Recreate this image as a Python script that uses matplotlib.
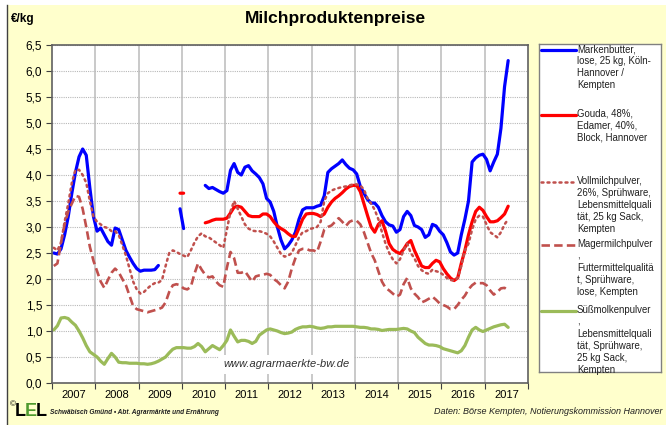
import numpy as np
import matplotlib
matplotlib.use("Agg")
import matplotlib.pyplot as plt
from matplotlib.patches import Rectangle
from matplotlib.lines import Line2D

plt.rcParams['font.family'] = ['Liberation Sans', 'DejaVu Sans']

nan = np.nan

# ==================================================
# DATA: monthly prices in EUR/kg, Jan 2007 - Jul 2017
# ==================================================

years = [2007, 2008, 2009, 2010, 2011, 2012, 2013, 2014, 2015, 2016, 2017]

markenbutter = [
    2.5, 2.48, 2.58, 2.85, 3.2, 3.65, 4.05, 4.35, 4.5, 4.38, 3.75, 3.2,
    2.92, 2.98, 2.85, 2.72, 2.65, 2.98, 2.95, 2.75, 2.55, 2.42, 2.3, 2.2,
    2.15, 2.17, 2.17, 2.17, 2.18, 2.26, nan, nan, nan, nan, nan, 3.35,
    2.97, nan, nan, nan, nan, nan, 3.8, 3.74, 3.76, 3.72, 3.68, 3.65,
    3.7, 4.09, 4.22, 4.05, 4.0, 4.15, 4.18, 4.08, 4.02, 3.95, 3.83, 3.55,
    3.48, 3.3, 3.0, 2.75, 2.58, 2.65, 2.75, 2.9, 3.15, 3.33, 3.37, 3.37,
    3.37, 3.4, 3.42, 3.6, 4.05, 4.12, 4.17, 4.22, 4.29, 4.2, 4.13, 4.1,
    4.02, 3.78, 3.65, 3.53, 3.46, 3.46, 3.38, 3.22, 3.1, 3.04, 3.02, 2.9,
    2.95, 3.2, 3.3, 3.22, 3.03, 3.0, 2.95, 2.8, 2.85, 3.05, 3.02, 2.92,
    2.85, 2.7, 2.52, 2.46, 2.5, 2.85, 3.15, 3.5, 4.25, 4.33, 4.38, 4.4,
    4.3, 4.08, 4.25, 4.4, 4.9, 5.7, 6.2,
]

gouda = [
    nan, nan, nan, nan, nan, nan, nan, nan, nan, nan, nan, nan,
    nan, nan, nan, nan, nan, nan, nan, nan, nan, nan, nan, nan,
    nan, nan, nan, nan, nan, nan, nan, nan, nan, nan, nan, 3.65,
    3.65, nan, nan, nan, nan, nan, 3.08, 3.1, 3.13, 3.15, 3.15, 3.15,
    3.17, 3.27, 3.38, 3.4, 3.38, 3.3, 3.22, 3.2, 3.2, 3.2, 3.25, 3.25,
    3.2, 3.1, 3.02, 2.97, 2.93, 2.87, 2.82, 2.82, 2.98, 3.15, 3.25, 3.26,
    3.26, 3.24, 3.2, 3.25, 3.38, 3.48, 3.55, 3.6, 3.66, 3.73, 3.78, 3.8,
    3.8, 3.68, 3.45, 3.22, 3.0, 2.9, 3.05, 3.12, 2.92, 2.68, 2.57, 2.52,
    2.49, 2.57, 2.68, 2.74, 2.55, 2.4, 2.25, 2.22, 2.22, 2.3, 2.36, 2.33,
    2.2, 2.1, 2.02, 1.97, 2.02, 2.3, 2.55, 2.85, 3.1, 3.3, 3.38, 3.32,
    3.2, 3.1, 3.1, 3.12, 3.18, 3.25, 3.4,
]

vollmilchpulver = [
    2.6, 2.55, 2.7, 3.1, 3.45, 3.85, 4.1, 4.1, 4.0, 3.85, 3.5, 3.2,
    3.1, 3.05, 3.0, 2.98, 2.92, 2.92, 2.85, 2.65, 2.45, 2.2, 1.95, 1.8,
    1.72, 1.75, 1.82, 1.88, 1.92, 1.93, 1.98, 2.25, 2.5, 2.55, 2.52, 2.48,
    2.45, 2.42, 2.55, 2.7, 2.82, 2.88, 2.82, 2.8, 2.75, 2.7, 2.65, 2.6,
    2.95, 3.3, 3.5, 3.35, 3.2, 3.05, 2.97, 2.93, 2.92, 2.92, 2.9, 2.87,
    2.82, 2.72, 2.6, 2.48, 2.43, 2.45, 2.5, 2.65, 2.8, 2.9, 2.92, 2.96,
    2.98, 3.0, 3.1, 3.5, 3.65, 3.7, 3.73, 3.75, 3.77, 3.78, 3.8, 3.82,
    3.82, 3.8, 3.72, 3.55, 3.45, 3.33, 3.15, 2.9, 2.68, 2.5, 2.38, 2.3,
    2.38, 2.55, 2.68, 2.5, 2.4, 2.25, 2.17, 2.12, 2.1, 2.18, 2.15, 2.13,
    2.08, 2.02, 1.98, 1.97, 2.02, 2.25, 2.55, 2.68, 2.95, 3.15, 3.22, 3.2,
    3.05, 2.9, 2.85, 2.8, 2.9, 3.05, 3.15,
]

magermilchpulver = [
    2.25, 2.3, 2.7, 3.05, 3.3, 3.45, 3.6, 3.58, 3.35, 3.0, 2.62, 2.35,
    2.15, 1.95, 1.83, 1.98, 2.12, 2.2, 2.13, 2.0, 1.88, 1.68, 1.48, 1.42,
    1.4, 1.38, 1.36, 1.38, 1.4, 1.42, 1.45, 1.55, 1.75, 1.88, 1.9, 1.88,
    1.82, 1.8, 1.85, 2.1, 2.3, 2.18, 2.08, 2.03, 2.05, 1.95, 1.88, 1.85,
    2.22, 2.52, 2.4, 2.12, 2.12, 2.15, 2.05, 1.95, 2.05, 2.07, 2.08, 2.1,
    2.08, 2.0, 1.95, 1.88, 1.82, 1.95, 2.2, 2.4, 2.55, 2.58, 2.58, 2.55,
    2.55, 2.52, 2.72, 2.95, 3.0, 3.03, 3.1, 3.17, 3.1, 3.02, 3.1, 3.13,
    3.12, 3.05, 2.9, 2.7, 2.5, 2.36, 2.15, 1.95, 1.83, 1.78, 1.72, 1.66,
    1.7, 1.9, 2.02, 1.82, 1.72, 1.65, 1.55, 1.58, 1.62, 1.66, 1.6, 1.53,
    1.5, 1.47, 1.42, 1.42, 1.5, 1.6, 1.68, 1.8, 1.88, 1.93, 1.92, 1.92,
    1.88, 1.78, 1.7, 1.75, 1.82, 1.83, 1.78,
]

suessmolkenpulver = [
    1.02, 1.1, 1.25, 1.26, 1.24, 1.17, 1.11, 1.0, 0.87, 0.72, 0.6, 0.55,
    0.5, 0.42, 0.36, 0.47, 0.57, 0.5, 0.4, 0.39, 0.39, 0.38, 0.38, 0.38,
    0.37, 0.37, 0.36, 0.37, 0.39, 0.42, 0.46, 0.5, 0.58, 0.65, 0.68, 0.68,
    0.68, 0.67, 0.67, 0.7, 0.76, 0.7, 0.6, 0.66, 0.72, 0.68, 0.64, 0.72,
    0.82, 1.02, 0.9, 0.79, 0.82, 0.82, 0.8, 0.76, 0.8, 0.92, 0.97, 1.02,
    1.04, 1.02, 1.0, 0.97, 0.95, 0.96, 0.98, 1.03, 1.06, 1.08, 1.08, 1.09,
    1.08, 1.06, 1.05, 1.06, 1.08, 1.08, 1.09, 1.09, 1.09, 1.09, 1.09, 1.09,
    1.08, 1.07, 1.07, 1.06, 1.04, 1.04, 1.03, 1.01, 1.02, 1.03, 1.03, 1.03,
    1.04, 1.05, 1.04, 1.0, 0.97, 0.88, 0.82, 0.76, 0.73, 0.73, 0.72, 0.7,
    0.66, 0.64, 0.62, 0.6, 0.58, 0.62, 0.72, 0.88, 1.02, 1.07, 1.02, 0.99,
    1.02, 1.05, 1.08, 1.1, 1.12, 1.13, 1.07,
]

labels = [
    "Markenbutter,\nlose, 25 kg, Köln-\nHannover /\nKempten",
    "Gouda, 48%,\nEdamer, 40%,\nBlock, Hannover",
    "Vollmilchpulver,\n26%, Sprühware,\nLebensmittelquali\ntät, 25 kg Sack,\nKempten",
    "Magermilchpulver\n,\nFuttermittelqualitä\nt, Sprühware,\nlose, Kempten",
    "Süßmolkenpulver\n,\nLebensmittelquali\ntät, Sprühware,\n25 kg Sack,\nKempten",
]

# month centres on a year axis
x = years[0] + (np.arange(len(markenbutter)) + 0.5) / 12.0

# ==================================================
# STYLES
# ==================================================

styles = [
    dict(color='#0000FF', lw=2.3, ls='-', solid_capstyle='round'),
    dict(color='#FF0000', lw=2.3, ls='-', solid_capstyle='round'),
    dict(color='#C0504D', lw=1.8, ls=(0, (0.8, 1.6)), dash_capstyle='round'),
    dict(color='#C0504D', lw=1.9, ls=(0, (3.2, 1.6))),
    dict(color='#9BBB59', lw=2.3, ls='-', solid_capstyle='round'),
]
series = [markenbutter, gouda, vollmilchpulver, magermilchpulver, suessmolkenpulver]

W, H = 666, 425
fig = plt.figure(figsize=(W / 100, H / 100), dpi=100, facecolor='white')

# yellow chart area with left edge line
fig.patches.append(Rectangle((7 / W, 0), 1 - 7 / W, 1 - 5 / H,
                             transform=fig.transFigure, facecolor='#FFFFCC',
                             edgecolor='none', zorder=-10))
fig.lines.append(Line2D([7 / W, 7 / W], [0, 1 - 5 / H], transform=fig.transFigure,
                        color='#404040', lw=1.0))

# ==================================================
# MAIN PLOT
# ==================================================

ax = fig.add_axes([52 / W, 42 / H, 476 / W, 338 / H])
ax.set_facecolor('white')

for vals, st in zip(series, styles):
    ax.plot(x, np.array(vals, dtype=float), **st)

ax.set_xlim(years[0], years[-1] + 1)
ax.set_ylim(0, 6.5)

yt = np.arange(0, 6.51, 0.5)
ax.set_yticks(yt)
ax.set_yticklabels([f"{v:.1f}".replace('.', ',') for v in yt], fontsize=8.5)
ax.yaxis.grid(True, color='#B8B8B8', ls=(0, (1, 1)), lw=0.8)

# year boundaries as ticks + grid, labels at centres
ax.set_xticks(years[1:] + [years[-1] + 1] + [years[0]])
ax.set_xticklabels([])
ax.set_xticks([y + 0.5 for y in years], minor=True)
ax.set_xticklabels([str(y) for y in years], minor=True, fontsize=8)
ax.tick_params(axis='x', which='minor', length=0, pad=5)
ax.tick_params(axis='x', which='major', length=4, direction='out', color='#404040')
ax.tick_params(axis='y', length=4, direction='out', color='#404040', pad=3)
for yb in years[1:]:
    ax.axvline(yb, color='#C0C0C0', lw=1.2, zorder=0)
ax.set_axisbelow(True)

for sp in ax.spines.values():
    sp.set_color('#606060')
    sp.set_linewidth(1.2)

ax.text(0.36, 0.055, "www.agrarmaerkte-bw.de", transform=ax.transAxes,
        fontsize=8, style='italic', color='#303030', va='center', ha='left',
        bbox=dict(facecolor='white', edgecolor='none', pad=3), zorder=5)

# ==================================================
# LEGEND (drawn by hand, Excel-like wrapped text)
# ==================================================

L_LEFT, L_TOP, L_W, L_H = 539, 44, 122, 328
lax = fig.add_axes([L_LEFT / W, (H - L_TOP - L_H) / H, L_W / W, L_H / H])
lax.set_xlim(0, 1)
lax.set_ylim(0, 1)
lax.set_xticks([])
lax.set_yticks([])
lax.set_facecolor('white')
for sp in lax.spines.values():
    sp.set_color('#808080')
    sp.set_linewidth(1.0)

item_px = [50, 115, 182, 245, 311]
for p, lab, st in zip(item_px, labels, styles):
    yy = (L_TOP + L_H - p) / L_H
    lax.plot([0.02, 0.30], [yy, yy], **st)
    lax.text(0.31, yy + 6 / L_H, lab, fontsize=6.9, va='top', ha='left',
             linespacing=1.25, color='#202020')

# ==================================================
# TITLES AND FOOTER
# ==================================================

fig.text(335 / W, 1 - 18 / H, "Milchproduktenpreise", ha='center', va='center',
         fontsize=12.5, fontweight='bold',
         family=['Liberation Sans Narrow', 'Liberation Sans'])
fig.text(11 / W, 1 - 19 / H, "€/kg", ha='left', va='center', fontsize=8.5,
         fontweight='bold', family=['Liberation Sans Narrow', 'Liberation Sans'])

fig.text(10 / W, 1 - 405 / H, "©", fontsize=6, ha='left', va='center')
fig.text(15 / W, 1 - 412 / H, "L", fontsize=13, fontweight='bold', ha='left', va='center')
fig.text(25 / W, 1 - 412 / H, "E", fontsize=13, fontweight='bold', ha='left',
         va='center', color='#4E9A2E')
fig.text(36 / W, 1 - 412 / H, "L", fontsize=13, fontweight='bold', ha='left', va='center')
fig.text(50 / W, 1 - 413 / H, "Schwäbisch Gmünd • Abt. Agrarmärkte und Ernährung",
         fontsize=4.7, fontweight='bold', style='italic', ha='left', va='center',
         color='#202020', family=['Liberation Sans Narrow', 'Liberation Sans'])
fig.text(662 / W, 1 - 412 / H, "Daten: Börse Kempten, Notierungskommission Hannover",
         fontsize=6.5, style='italic', ha='right', va='center', color='#202020')

plt.savefig("out.png", dpi=100, facecolor=fig.get_facecolor())
